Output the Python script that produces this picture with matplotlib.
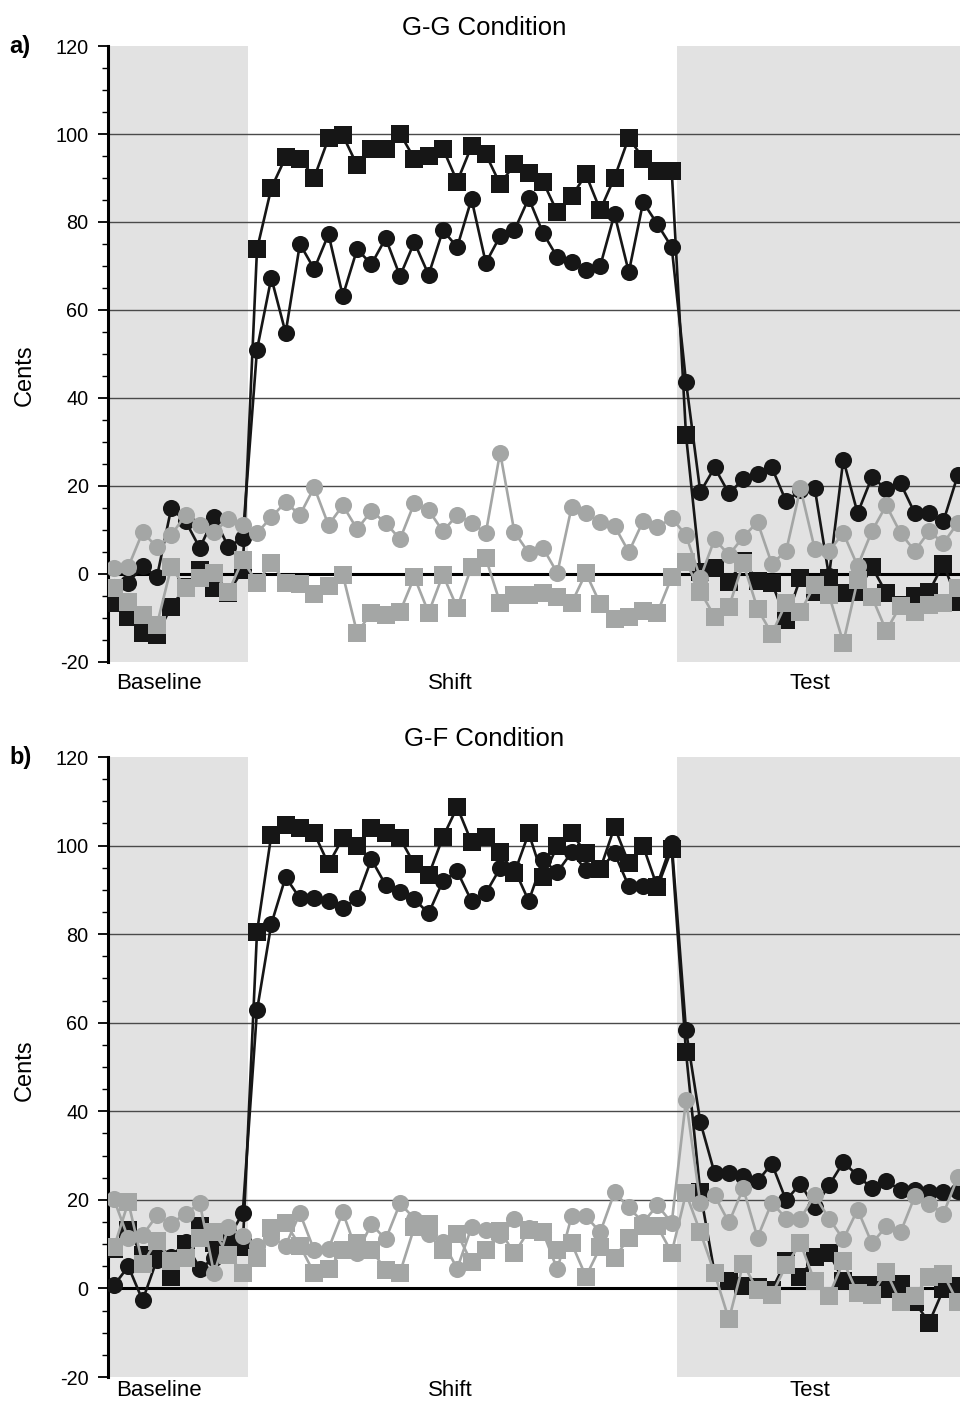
import matplotlib

matplotlib.use("Agg")

import matplotlib.pyplot as plt
import numpy as np
from matplotlib.ticker import MultipleLocator

plt.rcParams["font.family"] = ["Liberation Sans", "DejaVu Sans"]
plt.rcParams["axes.unicode_minus"] = False

# trial index, 10 baseline + 30 shift + 20 visible test trials
TRIALS = np.arange(1, 61)
PHASE_LABELS = ["Baseline", "Shift", "Test"]
PHASE_LABEL_POS = [4.15, 24.5, 49.7]

# panel a) G-G condition
GG_BLACK_SQ = [-6.6, -9.7, -13.4, -13.8, -7.5, -3, 0.9, -3.2, -4.3, 0.9,
               73.8, 87.7, 94.7, 94.4, 90.1, 99, 99.7, 92.9, 96.7, 96.5,
               100.1, 94.4, 94.9, 96.7, 89.2, 97.2, 95.4, 88.6, 93.1, 91.1,
               89.2, 82.2, 85.8, 90.8, 82.7, 90.1, 99.2, 94.4, 91.5, 91.7,
               31.5, 0.5, 1.4, -1.8, 3, -1.6, -2, -10.4, -0.9, -4,
               -0.9, -4.3, -4, 1.6, -4.3, -7, -5, -4, 2.3, -6.3]
GG_BLACK_CI = [-3, -2, 1.8, -0.7, 14.9, 12, 5.9, 12.9, 6.1, 8.2,
               51, 67.3, 54.8, 75, 69.3, 77.2, 63.2, 73.8, 70.4, 76.3,
               67.7, 75.4, 68, 78.1, 74.3, 85.2, 70.7, 76.8, 78.1, 85.4,
               77.5, 72, 70.9, 69.1, 70, 81.8, 68.6, 84.5, 79.5, 74.3,
               43.7, 18.6, 24.2, 18.3, 21.5, 22.7, 24.2, 16.5, 19, 19.5,
               -0.5, 26, 13.8, 22, 19.3, 20.6, 13.8, 13.8, 12, 22.4]
GG_GRAY_CI = [1.4, 1.6, 9.5, 6.1, 8.8, 13.4, 11.1, 9.5, 12.5, 11.1,
              9.3, 12.9, 16.3, 13.4, 19.7, 11.1, 15.6, 10.2, 14.3, 11.6,
              7.9, 16.1, 14.5, 9.7, 13.4, 11.6, 9.3, 27.6, 9.5, 4.8,
              5.9, 0.2, 15.2, 13.8, 11.8, 10.9, 5, 12, 10.6, 12.7,
              8.8, -0.9, 7.9, 4.3, 8.4, 11.8, 2.3, 5.2, 19.5, 5.7,
              5.2, 9.3, 1.8, 9.7, 15.6, 9.3, 5.2, 9.7, 7, 11.6]
GG_GRAY_SQ = [-3.2, -6.3, -9.3, -11.6, 1.6, -3.2, -0.9, 0.2, -4.1, 3.2,
              -2, 2.5, -2, -2.3, -4.5, -2.7, -0.2, -13.4, -8.8, -9.3,
              -8.6, -0.7, -8.8, -0.2, -7.7, 1.6, 3.6, -6.6, -4.8, -4.8,
              -4.3, -5.2, -6.6, 0.2, -6.8, -10.2, -9.7, -8.4, -8.8, -0.7,
              2.7, -4, -9.7, -7.5, 2.5, -7.9, -13.6, -6.6, -8.6, -2.5,
              -4.8, -15.6, -1.4, -5.2, -12.9, -7.2, -8.6, -7, -6.6, -3.2]

# panel b) G-F condition
GF_BLACK_SQ = [9, 13.1, 7.5, 7, 2.5, 10, 14.2, 10.2, 11.5, 9.3,
               80.5, 102.4, 104.6, 103.9, 102.8, 95.8, 101.7, 99.9, 103.9, 102.8,
               101.7, 95.8, 93.3, 101.9, 108.7, 100.8, 101.9, 98.5, 93.8, 102.8,
               92.9, 99.9, 102.8, 98.3, 94.7, 104.2, 96, 99.9, 90.6, 99.2,
               53.3, 21.7, 3.4, 1.8, 0.5, 0.3, -0.4, 6.3, 2.7, 7,
               8.1, 1.8, 0.7, 0.7, -0.2, 1.1, -3.1, -7.7, -0.2, 0.5]
GF_BLACK_CI = [0.7, 5, -2.7, 6.5, 7.2, 10.4, 4.5, 6.8, 11.3, 17,
               62.8, 82.3, 92.9, 88.1, 88.1, 87.5, 85.9, 88.1, 96.9, 91.1,
               89.5, 87.9, 84.7, 92, 94.2, 87.5, 89.3, 94.9, 94.7, 87.5,
               96.7, 94, 98.5, 94.5, 94.7, 98.3, 90.8, 90.8, 91.3, 100.6,
               58.3, 37.6, 26, 26.1, 25.5, 24.2, 28.2, 19.9, 23.7, 18.3,
               23.3, 28.5, 25.5, 22.6, 24.2, 22.3, 22.3, 21.7, 21.7, 21.9]
GF_GRAY_CI = [20.1, 11.3, 12, 16.5, 14.6, 16.9, 19.2, 3.4, 13.8, 11.8,
              9.7, 11.5, 9.7, 17, 8.6, 9, 17.2, 8.1, 14.5, 11.1,
              19.2, 15.8, 12.4, 10.5, 4.5, 13.8, 13.3, 12, 15.6, 13.6,
              12.7, 4.3, 16.3, 16.3, 12.7, 21.7, 18.3, 14.9, 18.8, 14.8,
              42.6, 19.2, 21, 14.9, 22.6, 11.5, 19.4, 15.8, 15.8, 21,
              15.8, 11.1, 17.8, 10.2, 14, 12.7, 20.8, 19, 16.9, 25.1]
GF_GRAY_SQ = [9.3, 19.5, 5.6, 10.8, 6.3, 6.8, 11.5, 12.7, 7.5, 3.6,
              6.8, 13.6, 14.7, 9.7, 3.4, 4.5, 8.6, 10.2, 8.8, 4.1,
              3.6, 13.8, 14.5, 8.8, 12.4, 5.9, 8.6, 13, 7.9, 13.1,
              12.7, 8.6, 10.2, 2.7, 9.3, 6.8, 11.5, 14, 14, 8.1,
              21.5, 12.7, 3.4, -7, 5.6, -0.4, -1.4, 5.2, 10.2, 1.6,
              -1.6, 6.1, -1.1, -1.4, 3.8, -3.1, -1.6, 2.7, 3.2, -3.1]

BLACK = "#161616"
GRAY = "#a4a6a5"
SHADE = "#e2e2e2"


def draw_panel(ax, series, title, tag, ylabel_y, xpad):
    ax.axvspan(0.4, 10.4, color=SHADE, lw=0, zorder=0)
    ax.axvspan(40.4, 61, color=SHADE, lw=0, zorder=0)
    for y in [20, 40, 60, 80, 100]:
        ax.axhline(y, color="#4a4a4a", lw=1.0, zorder=1)
    ax.axhline(0, color="black", lw=2.2, zorder=1)

    for values, color, marker, z in series:
        ax.plot(TRIALS, values, color=color, lw=1.9, marker=marker,
                markersize=12.3, markerfacecolor=color, markeredgecolor=color,
                markeredgewidth=0, zorder=z)

    ax.set_xlim(0.58, 60.16)
    ax.set_ylim(-20, 120)
    ax.yaxis.set_major_locator(MultipleLocator(20))
    ax.yaxis.set_minor_locator(MultipleLocator(5))
    ax.tick_params(axis="y", which="major", length=7, width=1.3, labelsize=14.3, pad=7)
    ax.tick_params(axis="y", which="minor", length=4, width=1.0)
    ax.set_xticks(PHASE_LABEL_POS)
    ax.set_xticklabels(PHASE_LABELS)
    ax.tick_params(axis="x", length=0, labelsize=16, pad=xpad)

    for side in ["top", "right", "bottom"]:
        ax.spines[side].set_visible(False)
    ax.spines["left"].set_linewidth(2.2)

    ax.set_ylabel("Cents", fontsize=17)
    ax.yaxis.set_label_coords(-0.085, ylabel_y)
    ax.set_title(title, fontsize=18.5, pad=8, x=0.441)
    ax.text(-0.116, 1.0, tag, transform=ax.transAxes, fontsize=17,
            fontweight="bold", ha="left", va="center")


fig = plt.figure(figsize=(9.6, 14.03), dpi=100)
ax_a = fig.add_axes([0.1125, 0.5282, 0.8875, 0.4390])
ax_b = fig.add_axes([0.1125, 0.0185, 0.8875, 0.4419])

draw_panel(ax_a, [(GG_BLACK_SQ, BLACK, "s", 3), (GG_BLACK_CI, BLACK, "o", 4),
                  (GG_GRAY_SQ, GRAY, "s", 5), (GG_GRAY_CI, GRAY, "o", 6)],
           "G-G Condition", "a)", 0.466, 8)
draw_panel(ax_b, [(GF_BLACK_SQ, BLACK, "s", 3), (GF_BLACK_CI, BLACK, "o", 4),
                  (GF_GRAY_SQ, GRAY, "s", 5), (GF_GRAY_CI, GRAY, "o", 6)],
           "G-F Condition", "b)", 0.495, 2)

fig.savefig("out.png", dpi=100)
